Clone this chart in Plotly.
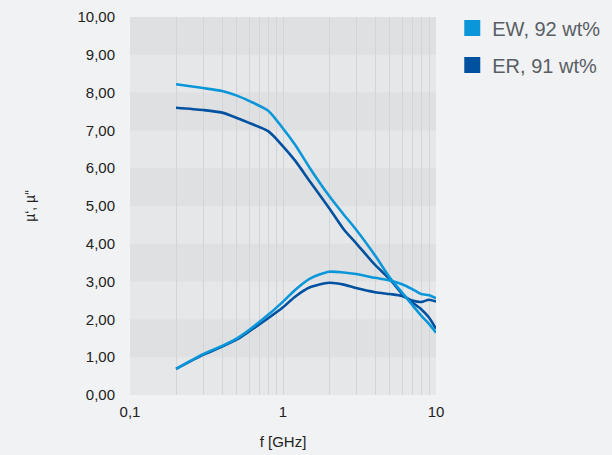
import plotly.graph_objects as go

# ---- data ----
freq_ghz = [0.2, 0.3, 0.4, 0.5, 0.6, 0.8, 1.0, 1.2, 1.5, 2.0, 2.5, 3.0, 4.0, 5.0, 6.0, 7.0, 8.0, 9.0, 10.0]

ew_mu_real = [8.22, 8.12, 8.04, 7.92, 7.78, 7.52, 7.05, 6.62, 6.00, 5.27, 4.77, 4.38, 3.69, 3.10, 2.71, 2.38, 2.10, 1.88, 1.65]
er_mu_real = [7.60, 7.54, 7.47, 7.33, 7.20, 6.98, 6.58, 6.20, 5.65, 4.95, 4.38, 4.02, 3.44, 3.06, 2.68, 2.45, 2.27, 2.05, 1.75]
ew_mu_imag = [0.69, 1.08, 1.30, 1.50, 1.72, 2.12, 2.47, 2.78, 3.08, 3.26, 3.24, 3.20, 3.10, 3.03, 2.93, 2.80, 2.67, 2.64, 2.56]
er_mu_imag = [0.69, 1.06, 1.28, 1.47, 1.68, 2.03, 2.32, 2.60, 2.85, 2.97, 2.92, 2.83, 2.72, 2.67, 2.62, 2.50, 2.46, 2.52, 2.47]

series_names = ["EW, 92 wt%", "ER, 91 wt%"]
series_colors = ["#0a97d9", "#0051a0"]

x_tickvals = [0.1, 1, 10]
x_ticktext = ["0,1", "1", "10"]
x_minor_vals = [0.2, 0.3, 0.4, 0.5, 0.6, 0.7, 0.8, 0.9, 1, 2, 3, 4, 5, 6, 7, 8, 9, 10]
y_tickvals = [0, 1, 2, 3, 4, 5, 6, 7, 8, 9, 10]

PAGE_BG = "#f1f2f4"
BAND_LIGHT = "#e6e7e9"
BAND_DARK = "#dfe0e2"

fig = go.Figure()

curves = [
    (er_mu_real, 1), (er_mu_imag, 1),
    (ew_mu_real, 0), (ew_mu_imag, 0),
]
for ys, idx in curves:
    fig.add_trace(go.Scatter(
        x=freq_ghz, y=ys, mode="lines",
        line=dict(color=series_colors[idx], width=2.6, shape="spline", smoothing=0.7),
        showlegend=False, hoverinfo="skip",
    ))

for i, name in enumerate(series_names):
    fig.add_trace(go.Scatter(
        x=[None], y=[None], mode="markers", name=name,
        marker=dict(symbol="square", size=18, color=series_colors[i]),
        legendgroup=f"g{i}",
    ))

shapes = []
for i in range(len(y_tickvals) - 1):
    if i % 2 == 1:
        shapes.append(dict(
            type="rect", xref="paper", yref="y", x0=0, x1=1,
            y0=y_tickvals[i], y1=y_tickvals[i + 1],
            fillcolor=BAND_DARK, line=dict(width=0), layer="below",
        ))

fig.update_layout(
    width=612, height=455,
    margin=dict(l=130, r=176, t=17, b=60),
    paper_bgcolor=PAGE_BG,
    plot_bgcolor=BAND_LIGHT,
    separators=",.",
    font=dict(family="Liberation Sans, Arial, sans-serif", size=15, color="#222222"),
    shapes=shapes,
    showlegend=True,
    legend=dict(
        xref="container", yref="container",
        x=0.739, y=0.9815, xanchor="left", yanchor="top",
        font=dict(size=20, color="#595e65"),
        bgcolor="rgba(0,0,0,0)",
        traceorder="grouped", tracegroupgap=8,
        itemclick=False, itemdoubleclick=False,
    ),
    xaxis=dict(
        type="log", range=[-1, 1],
        tickmode="array", tickvals=x_tickvals, ticktext=x_ticktext,
        showgrid=False, zeroline=False, showline=False, ticks="",
        ticklabelstandoff=6,
        minor=dict(tickmode="array", tickvals=x_minor_vals, showgrid=True,
                   gridcolor="#d3d4d7", gridwidth=1.4, ticks=""),
        title=dict(text="f [GHz]", font=dict(size=15, color="#222222"), standoff=17),
        automargin=False,
    ),
    yaxis=dict(
        range=[0, 10],
        tickmode="array", tickvals=y_tickvals, tickformat=".2f",
        showgrid=False, zeroline=False, showline=False, ticks="",
        ticklabelstandoff=14,
        title=dict(text="µ‘, µ“", font=dict(size=14, color="#222222"), standoff=38),
        automargin=False,
    ),
)

fig.write_html(
    "out.html",
    config={"displayModeBar": False},
    post_script="document.body.style.margin='0';document.body.style.background='#f1f2f4';",
)
